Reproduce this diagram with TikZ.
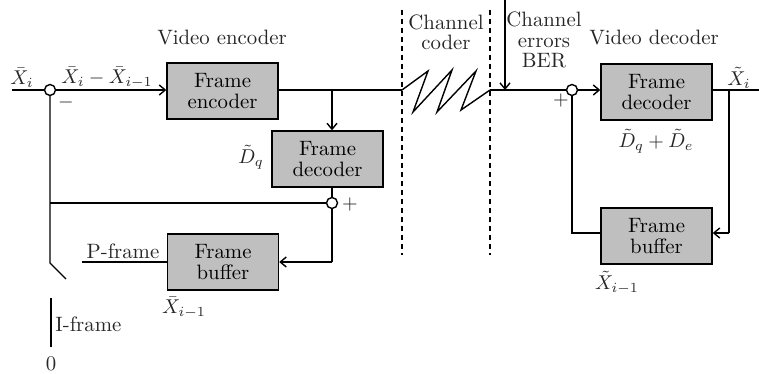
\documentclass[tikz,border=0pt]{standalone}
\usetikzlibrary{arrows.meta,calc}
\tikzset{blockbox/.style={draw,fill=black!25,line width=0.7pt,minimum width=55.5pt,minimum height=28pt,align=center,inner sep=0pt}}
\tikzset{sumpoint/.style={circle,draw,fill=white,line width=0.7pt,minimum size=5.5pt,inner sep=0pt}}
\tikzset{wire/.style={line width=0.7pt}}
\tikzset{chanline/.style={line width=0.7pt,dash pattern=on 2.5pt off 2pt}}
\tikzset{lbl/.style={inner sep=0.5pt,text=black!85}}

\begin{document}
\begin{tikzpicture}[x=0.5pt,y=-0.5pt,font=\fontsize{10.4}{10.2}\selectfont,>={Straight Barb[length=3pt,width=5pt]}]
	\useasboundingbox (0,0) rectangle (759,374);

	% video encoder
	\node[sumpoint] (cin) at (50,90) {};
	\node[blockbox] (enc) at (222.5,91) {Frame\\encoder};
	\node[blockbox] (dec1) at (327.5,159) {Frame\\decoder};
	\node[sumpoint] (csum) at (332,203) {};
	\node[blockbox] (buf1) at (223,262) {Frame\\buffer};
	\coordinate (xin) at (12,90);
	\coordinate (tap1) at (332,90);
	\coordinate (chin) at (402,90);
	\coordinate (sw) at (50,263);
	\coordinate (swend) at (66,279);
	\coordinate (pin) at (82,262);
	\coordinate (itop) at (51,298);
	\coordinate (ibot) at (51,347);

	\draw[wire] (xin) -- (cin);
	\draw[wire,->] (cin) -- (cin -| enc.west);
	\draw[wire] (enc.east |- tap1) -- (chin);
	\draw[wire,->] (tap1) -- (dec1.north -| tap1);
	\draw[wire] (dec1.south -| csum) -- (csum);
	\draw[wire] (csum) -- (csum |- pin) coordinate (fb1);
	\draw[wire,->] (fb1) -- (buf1.east |- fb1);
	\draw[wire] (csum) -- (csum.west -| cin);
	\draw[wire] (cin) -- (sw) -- (swend);
	\draw[wire] (pin) -- (buf1.west |- pin);
	\draw[wire] (itop) -- (ibot);

	\node[lbl] at (22,78) {$\bar{X}_i$};
	\node[lbl] at (107,78) {$\bar{X}_i-\bar{X}_{i-1}$};
	\node[lbl] at (66,102) {$-$};
	\node[lbl] at (222,38) {Video encoder};
	\node[lbl] at (251,157) {$\tilde{D}_q$};
	\node[lbl] at (350,204) {$+$};
	\node[lbl] at (123,251) {P-frame};
	\node[lbl] at (184,308) {$\bar{X}_{i-1}$};
	\node[lbl,anchor=west] at (54,324) {I-frame};
	\node[lbl] at (51,364) {0};

	% channel coder
	\draw[chanline] (402,10) -- (402,255);
	\draw[chanline] (490,10) -- (490,255);
	\draw[wire] (chin) -- (428,71) -- (413,112) -- (452,70) -- (437,112) -- (476,71) -- (461,110) -- (490,90);
	\node[lbl,align=center] at (446,32) {Channel\\coder};
	\node[lbl,align=center] at (544,40) {Channel\\errors\\BER};
	\coordinate (errtop) at (505,0);
	\coordinate (errhit) at (505,90);
	\draw[wire,->] (errtop) -- (errhit);

	% video decoder
	\node[sumpoint] (cdec) at (572,90) {};
	\node[blockbox] (dec2) at (656.5,92) {Frame\\decoder};
	\node[blockbox] (buf2) at (656.5,236) {Frame\\buffer};
	\coordinate (tap2) at (729,90);
	\coordinate (xout) at (768,90);
	\draw[wire] (490,90) -- (cdec);
	\draw[wire,->] (cdec) -- (cdec -| dec2.west);
	\draw[wire,->] (dec2.east |- tap2) -- (xout);
	\draw[wire] (tap2) -- (729,233) coordinate (fb2);
	\draw[wire,->] (fb2) -- (buf2.east |- fb2);
	\draw[wire] (buf2.west |- fb2) -- (cdec |- fb2) -- (cdec);

	\node[lbl] at (654,38) {Video decoder};
	\node[lbl] at (561,100) {$+$};
	\node[lbl] at (739,78) {$\tilde{X}_i$};
	\node[lbl] at (656,141) {$\tilde{D}_q+\tilde{D}_e$};
	\node[lbl] at (617,283) {$\tilde{X}_{i-1}$};
\end{tikzpicture}
\end{document}
